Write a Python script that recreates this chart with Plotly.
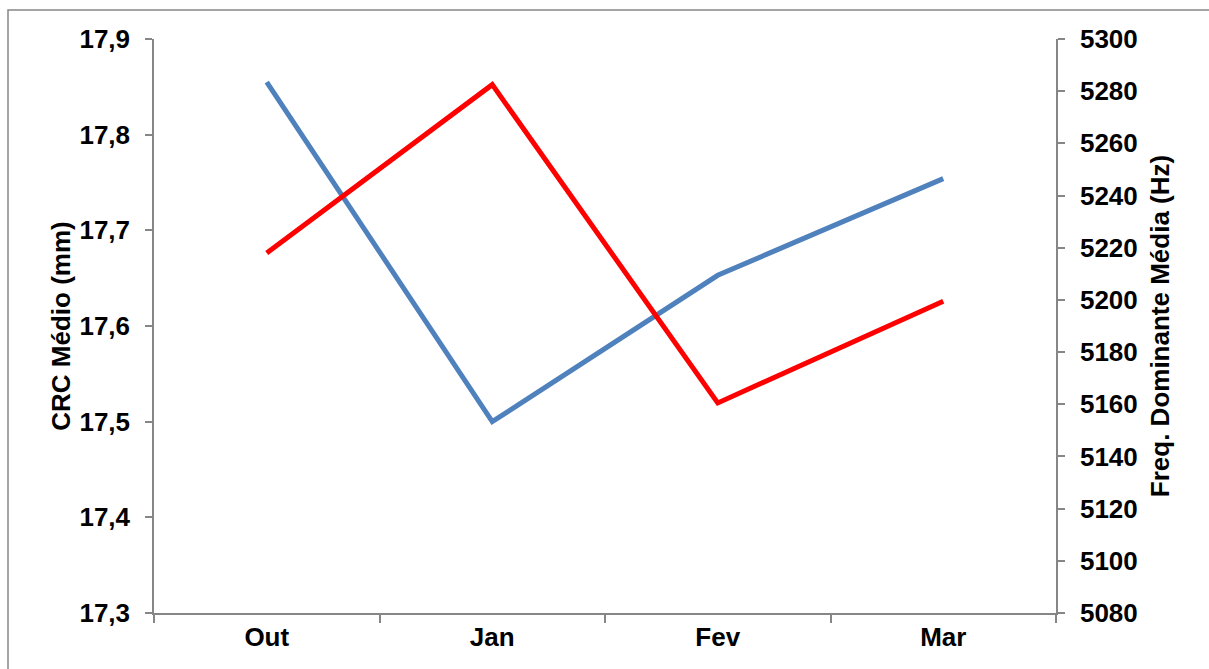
import plotly.graph_objects as go

# Monthly means
meses = ["Out", "Jan", "Fev", "Mar"]
crc_medio = [17.855, 17.5, 17.653, 17.754]          # mm, left axis
freq_dominante = [5218, 5282.5, 5160.5, 5199.5]     # Hz, right axis

W, H = 1209, 669
L, R, T, B = 154, 153, 39, 56
pw, ph = W - L - R, H - T - B

axis_col = "#868686"
font_fam = "Liberation Sans, Arial, sans-serif"

fig = go.Figure()
fig.add_trace(go.Scatter(
    x=meses, y=crc_medio, mode="lines", name="CRC Médio",
    line=dict(color="#4F81BD", width=5), yaxis="y",
))
fig.add_trace(go.Scatter(
    x=meses, y=freq_dominante, mode="lines", name="Freq. Dominante Média",
    line=dict(color="#FF0000", width=5), yaxis="y2",
))

tick_font = dict(family=font_fam, size=26, color="black", weight="bold")
title_font = dict(family=font_fam, size=26, color="black", weight="bold")

fig.update_layout(
    width=W, height=H,
    margin=dict(l=L, r=R, t=T, b=B),
    paper_bgcolor="white", plot_bgcolor="white",
    separators=",.",
    showlegend=False,
    xaxis=dict(
        type="category", tickson="boundaries",
        showline=True, linecolor=axis_col, linewidth=1.5,
        ticks="outside", ticklen=8, tickcolor=axis_col, tickwidth=1.5,
        showgrid=False, zeroline=False,
        tickfont=tick_font, range=[-0.5, 3.5],
    ),
    yaxis=dict(
        range=[17.3, 17.9], dtick=0.1, tickformat=".1f",
        showline=True, linecolor=axis_col, linewidth=1.5,
        ticks="outside", ticklen=7, tickcolor=axis_col, tickwidth=1.5,
        ticklabelstandoff=10,
        showgrid=False, zeroline=False,
        tickfont=tick_font,
        title=dict(text="CRC Médio (mm)", font=title_font, standoff=1),
    ),
    yaxis2=dict(
        range=[5080, 5300], dtick=20, overlaying="y", side="right",
        showline=True, linecolor=axis_col, linewidth=1.5,
        ticks="outside", ticklen=7, tickcolor=axis_col, tickwidth=1.5,
        ticklabelstandoff=10,
        showgrid=False, zeroline=False,
        tickfont=tick_font,
        title=dict(text="Freq. Dominante Média (Hz)", font=title_font, standoff=14),
    ),
)

# Outer chart frame
fig.add_shape(
    type="rect", xref="paper", yref="paper",
    x0=(8 - L) / pw, x1=(W + 10 - L) / pw,
    y0=-(B + 10) / ph, y1=1 + (T - 10) / ph,
    line=dict(color=axis_col, width=1.5), fillcolor="rgba(0,0,0,0)",
    layer="below",
)

fig.write_html("out.html")
